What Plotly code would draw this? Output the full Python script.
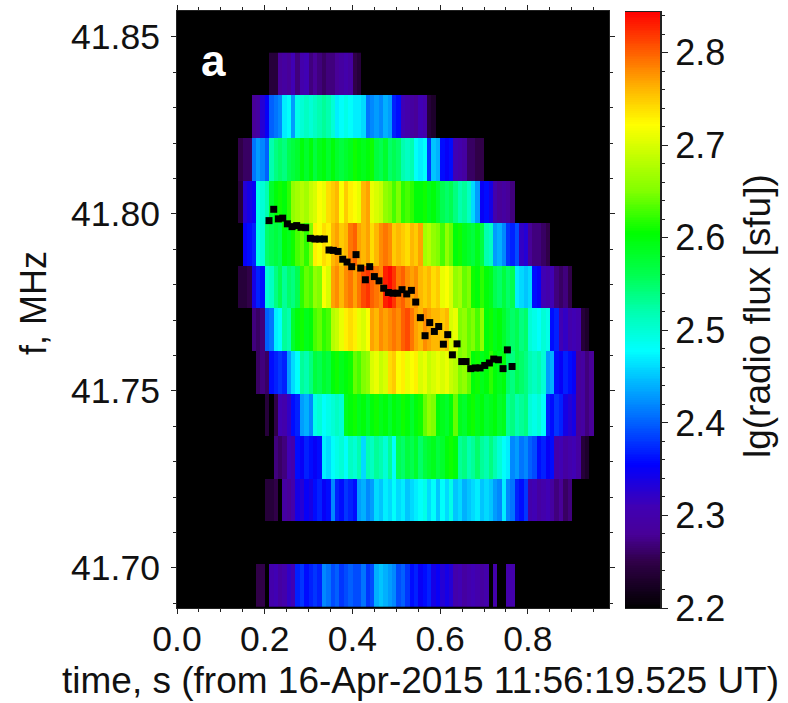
import plotly.graph_objects as go

BG = 2.2
N_COLS = 98
DT = 0.01
times = [(k + 0.5) * DT for k in range(N_COLS)]

freqs = [41.8395 - 0.01204 * i for i in range(13)]

# (first column index)
r00 = (21, [2.24,2.24,2.28,2.29,2.28,2.31,2.27,2.30,2.31,2.27,2.28,2.27,2.26,2.27,2.27,2.28,2.29,2.30,2.29,2.25,2.24])
r01 = (17, [2.28,2.29,2.33,2.35,2.40,2.41,2.42,2.47,2.48,2.43,2.49,2.50,2.51,2.50,2.51,2.52,2.53,2.52,2.50,2.47,2.48,2.49,2.48,2.47,2.47,2.46,2.41,2.42,2.43,2.42,2.44,2.43,2.37,2.36,2.31,2.30,2.29,2.28,2.31,2.30,2.24,2.23])
r02 = (14, [2.25,2.26,2.26,2.41,2.43,2.42,2.40,2.52,2.54,2.55,2.54,2.56,2.57,2.58,2.60,2.58,2.60,2.57,2.59,2.60,2.58,2.60,2.58,2.57,2.58,2.59,2.61,2.60,2.59,2.60,2.61,2.57,2.56,2.58,2.55,2.56,2.55,2.52,2.51,2.52,2.48,2.47,2.48,2.38,2.45,2.44,2.36,2.35,2.36,2.31,2.30,2.29,2.26,2.26,2.25,2.25])
r03 = (14, [2.24,2.33,2.34,2.35,2.49,2.50,2.52,2.58,2.60,2.61,2.60,2.62,2.66,2.67,2.68,2.67,2.69,2.70,2.72,2.71,2.74,2.75,2.76,2.72,2.75,2.73,2.72,2.71,2.76,2.77,2.71,2.70,2.69,2.66,2.65,2.63,2.65,2.62,2.63,2.62,2.60,2.60,2.61,2.59,2.60,2.58,2.56,2.55,2.56,2.54,2.52,2.53,2.51,2.46,2.43,2.35,2.36,2.34,2.30,2.28,2.29,2.28,2.27])
r04 = (15, [2.35,2.36,2.37,2.49,2.50,2.55,2.56,2.57,2.56,2.60,2.59,2.61,2.63,2.64,2.62,2.65,2.73,2.72,2.74,2.73,2.76,2.77,2.75,2.76,2.79,2.80,2.77,2.76,2.77,2.74,2.76,2.78,2.79,2.78,2.75,2.76,2.75,2.74,2.76,2.75,2.77,2.67,2.68,2.66,2.65,2.63,2.66,2.64,2.60,2.61,2.59,2.58,2.57,2.59,2.57,2.52,2.51,2.43,2.44,2.42,2.38,2.37,2.39,2.32,2.33,2.28,2.27,2.27,2.26,2.25])
r05 = (14, [2.24,2.24,2.25,2.34,2.37,2.36,2.50,2.51,2.54,2.56,2.53,2.55,2.54,2.56,2.62,2.64,2.63,2.66,2.65,2.72,2.70,2.77,2.78,2.76,2.78,2.79,2.77,2.79,2.81,2.82,2.80,2.79,2.78,2.83,2.84,2.82,2.79,2.80,2.78,2.77,2.78,2.76,2.75,2.76,2.74,2.75,2.71,2.72,2.70,2.66,2.67,2.64,2.65,2.61,2.60,2.62,2.60,2.59,2.56,2.55,2.57,2.55,2.56,2.47,2.46,2.45,2.46,2.36,2.35,2.31,2.30,2.31,2.27,2.26,2.27,2.25])
r06 = (17, [2.27,2.26,2.27,2.40,2.41,2.47,2.48,2.53,2.52,2.58,2.60,2.61,2.59,2.60,2.63,2.64,2.62,2.63,2.68,2.69,2.71,2.73,2.74,2.73,2.71,2.70,2.72,2.77,2.76,2.78,2.77,2.78,2.79,2.78,2.80,2.81,2.79,2.77,2.76,2.78,2.77,2.76,2.76,2.75,2.76,2.70,2.71,2.65,2.66,2.64,2.65,2.63,2.66,2.60,2.61,2.59,2.60,2.58,2.56,2.55,2.56,2.54,2.55,2.50,2.49,2.48,2.50,2.49,2.36,2.37,2.31,2.32,2.30,2.31,2.30,2.24,2.23])
r07 = (18, [2.26,2.27,2.26,2.36,2.37,2.38,2.37,2.43,2.46,2.48,2.53,2.52,2.54,2.57,2.56,2.58,2.57,2.60,2.61,2.59,2.60,2.61,2.64,2.63,2.65,2.66,2.70,2.71,2.69,2.70,2.74,2.75,2.72,2.73,2.71,2.72,2.73,2.70,2.71,2.69,2.70,2.71,2.70,2.71,2.69,2.68,2.65,2.66,2.64,2.60,2.61,2.59,2.60,2.62,2.60,2.59,2.60,2.55,2.54,2.56,2.55,2.54,2.52,2.51,2.52,2.50,2.43,2.44,2.36,2.35,2.37,2.36,2.35,2.28,2.29,2.27,2.28])
r08 = (20, [2.24,2.20,2.25,2.31,2.30,2.32,2.36,2.37,2.43,2.44,2.42,2.49,2.50,2.48,2.49,2.50,2.51,2.50,2.59,2.60,2.61,2.59,2.60,2.58,2.60,2.61,2.59,2.60,2.58,2.60,2.59,2.61,2.60,2.58,2.60,2.61,2.64,2.66,2.65,2.60,2.59,2.58,2.60,2.64,2.59,2.58,2.60,2.61,2.59,2.60,2.58,2.59,2.60,2.58,2.59,2.53,2.54,2.52,2.53,2.54,2.50,2.49,2.50,2.48,2.37,2.36,2.38,2.37,2.34,2.33,2.34,2.28,2.29,2.27,2.28])
r09 = (22, [2.27,2.26,2.27,2.31,2.30,2.36,2.35,2.37,2.36,2.35,2.36,2.47,2.46,2.48,2.49,2.50,2.48,2.51,2.50,2.52,2.46,2.52,2.51,2.53,2.52,2.50,2.53,2.48,2.56,2.55,2.57,2.56,2.58,2.55,2.57,2.58,2.59,2.57,2.58,2.60,2.61,2.60,2.53,2.54,2.52,2.53,2.55,2.53,2.52,2.54,2.52,2.50,2.48,2.47,2.42,2.43,2.41,2.42,2.40,2.39,2.36,2.37,2.35,2.36,2.30,2.31,2.29,2.30,2.31,2.29,2.24,2.23])
r10 = (20, [2.24,2.24,2.25,2.20,2.29,2.28,2.30,2.34,2.33,2.35,2.34,2.36,2.37,2.35,2.36,2.42,2.37,2.36,2.38,2.37,2.36,2.43,2.44,2.42,2.43,2.46,2.45,2.47,2.46,2.48,2.46,2.47,2.45,2.46,2.47,2.48,2.49,2.46,2.48,2.45,2.48,2.46,2.49,2.45,2.46,2.44,2.45,2.46,2.47,2.45,2.46,2.45,2.43,2.42,2.47,2.42,2.41,2.37,2.36,2.38,2.30,2.31,2.29,2.30,2.31,2.29,2.27,2.28,2.26,2.27])
r11 = (0, [])
r12 = (18, [2.25,2.25,2.20,2.30,2.31,2.29,2.30,2.32,2.31,2.37,2.38,2.36,2.37,2.38,2.37,2.42,2.41,2.39,2.40,2.38,2.39,2.40,2.39,2.39,2.41,2.38,2.39,2.44,2.45,2.44,2.43,2.42,2.39,2.40,2.38,2.36,2.37,2.35,2.36,2.37,2.34,2.35,2.33,2.34,2.33,2.30,2.31,2.29,2.30,2.31,2.30,2.29,2.30,2.20,2.30,2.20,2.20,2.30,2.30])
rows = [r00, r01, r02, r03, r04, r05, r06, r07, r08, r09, r10, r11, r12]

drift_t = [.2098,.2205,.2311,.2410,.2516,.2623,.2729,.2828,.2934,.3041,.3147,.3254,.3360,.3466,.3565,.3672,.3778,.3877,.3983,.4082,.4189,.4295,.4394,.4500,.4607,.4713,.4819,.4926,.5032,.5131,.5238,.5344,.5443,.5549,.5656,.5762,.5868,.5967,.6074,.6173,.6279,.6385,.6492,.6591,.6697,.6803,.6910,.7016,.7123,.7222,.7328,.7434,.7533,.7640]
drift_f = [41.7981,41.8013,41.7986,41.7988,41.7972,41.7964,41.7967,41.7962,41.7961,41.7931,41.7929,41.7929,41.7929,41.7898,41.7897,41.7894,41.7872,41.7864,41.7851,41.7885,41.7847,41.7814,41.7851,41.7823,41.7811,41.7790,41.7778,41.7776,41.7776,41.7786,41.7774,41.7784,41.7751,41.7707,41.7656,41.7693,41.7668,41.7682,41.7632,41.7659,41.7602,41.7633,41.7583,41.7583,41.7563,41.7565,41.7565,41.7572,41.7579,41.7590,41.7588,41.7563,41.7616,41.7569]

cb_levels = [2.2 + 0.002 * i for i in range(323)]
cb_ticks = [2.2, 2.3, 2.4, 2.5, 2.6, 2.7, 2.8]

VMIN, VMAX = 2.2, 2.844
stops = [(2.20,"#000000"),(2.25,"#300048"),(2.28,"#480098"),(2.31,"#4000b4"),(2.355,"#0000ff"),
         (2.40,"#0060ff"),(2.44,"#00b0ff"),(2.478,"#00ffff"),(2.52,"#00ffb0"),(2.56,"#00ff50"),
         (2.605,"#00ff00"),(2.65,"#80ff00"),(2.70,"#d8ff00"),(2.722,"#ffff00"),(2.76,"#ffb800"),
         (2.80,"#ff6000"),(2.844,"#ff0000")]
colorscale = [[(v - VMIN) / (VMAX - VMIN), c] for v, c in stops]

z = []
for start, vals in rows:
    z.append([BG] * start + vals + [BG] * (N_COLS - start - len(vals)))

W, H = 788, 703
FONT = "Liberation Sans, Arial, sans-serif"
TICK = 35.5
INK = "#222222"

fig = go.Figure()
fig.add_trace(go.Heatmap(x=times, y=freqs, z=z, zmin=VMIN, zmax=VMAX, colorscale=colorscale,
                         showscale=False))
fig.add_trace(go.Scatter(x=drift_t, y=drift_f, mode="markers",
                         marker=dict(symbol="square", size=7, color="black", line=dict(width=0))))
fig.add_trace(go.Heatmap(x=[0, 1], y=cb_levels, z=[[v, v] for v in cb_levels], zmin=VMIN, zmax=VMAX,
                         colorscale=colorscale, showscale=False, xaxis="x2", yaxis="y2"))

fig.update_layout(
    width=W, height=H, margin=dict(l=0, r=0, t=0, b=0, autoexpand=False),
    paper_bgcolor="white", plot_bgcolor="black", showlegend=False,
    font=dict(family=FONT, size=TICK, color="#111111"),
    xaxis=dict(domain=[177/W, 609/W], range=[0, 0.985], dtick=0.2, tick0=0, tickformat=".1f", automargin=False,
               ticks="outside", ticklen=5, tickwidth=1, tickcolor=INK, showgrid=False, zeroline=False,
               showline=True, linecolor=INK, linewidth=1, mirror="allticks", ticklabelstandoff=-6,
               minor=dict(dtick=0.05, ticks="outside", ticklen=3, tickcolor=INK, showgrid=False)),
    yaxis=dict(domain=[(H-608)/H, (H-11)/H], range=[41.6887, 41.8573], dtick=0.05, tick0=41.70, tickformat=".2f",
               automargin=False, ticks="outside", ticklen=5, tickwidth=1, tickcolor=INK, showgrid=False,
               zeroline=False, showline=True, linecolor=INK, linewidth=1, mirror="allticks",
               ticklabelstandoff=4,
               minor=dict(dtick=0.01, ticks="outside", ticklen=3, tickcolor=INK, showgrid=False)),
    xaxis2=dict(domain=[625/W, 660/W], range=[0, 1], anchor="y2", showticklabels=False, ticks="", automargin=False,
                showgrid=False, zeroline=False, showline=True, linecolor=INK, linewidth=1, mirror=True),
    yaxis2=dict(domain=[(H-608)/H, (H-12)/H], range=[VMIN, VMAX], anchor="x2", side="right", automargin=False,
                tickvals=cb_ticks, tickformat=".1f", ticks="outside", ticklen=6, tickcolor=INK,
                showgrid=False, zeroline=False, showline=True, linecolor=INK, linewidth=2, ticklabelstandoff=0,
                tickfont=dict(size=36),
                minor=dict(dtick=0.02, ticks="outside", ticklen=3, tickcolor=INK, showgrid=False)),
    annotations=[
        dict(text="<b>a</b>", x=214/W, y=1-60/H, xref="paper", yref="paper", showarrow=False,
             xanchor="center", yanchor="middle", font=dict(size=44, color="white", family=FONT)),
        dict(text="time, s (from 16-Apr-2015 11:56:19.525 UT)", x=420/W, y=1-680/H, xref="paper", yref="paper",
             showarrow=False, xanchor="center", yanchor="middle", font=dict(size=37, family=FONT, color="#111111")),
        dict(text="f, MHz", x=33/W, y=1-303/H, xref="paper", yref="paper", showarrow=False, textangle=-90,
             xanchor="center", yanchor="middle", font=dict(size=36, family=FONT, color="#111111")),
        dict(text="lg(radio flux [sfu])", x=757/W, y=1-316/H, xref="paper", yref="paper", showarrow=False,
             textangle=-90, xanchor="center", yanchor="middle", font=dict(size=37, family=FONT, color="#111111")),
    ],
)
fig.write_html("out.html", config={"displayModeBar": False}, post_script="document.body.style.margin='0';")
